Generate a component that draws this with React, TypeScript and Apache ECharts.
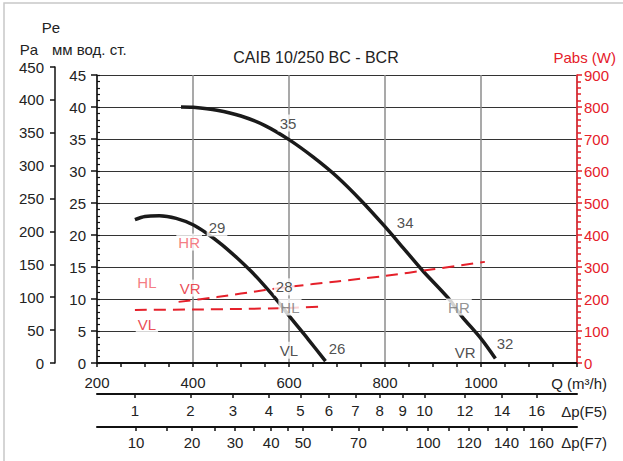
import React, { useEffect, useRef } from "react";
import * as echarts from "echarts";

// Pressure curves (mm w.c.) vs Q (m³/h)
const Q_LARGE = [375, 400, 450, 500, 550, 600, 650, 700, 750, 800, 840, 880, 931, 960, 1000, 1030];
const PE_LARGE = [40.0, 39.95, 39.5, 38.6, 37.1, 34.9, 32.2, 29.1, 25.4, 21.3, 17.8, 14.3, 10.2, 7.3, 3.8, 0.7];
const Q_SMALL = [279, 300, 330, 365, 400, 430, 460, 492, 520, 545, 575, 602, 640, 676];
const PE_SMALL = [22.4, 22.9, 23.0, 22.6, 21.6, 20.2, 18.5, 16.4, 14.4, 12.4, 9.8, 7.2, 3.7, 0.3];

// Absorbed power curves (W)
const Q_PWR_R = [370, 450, 550, 600, 700, 800, 900, 1008];
const W_PWR_R = [191, 206, 228, 238, 255, 272, 293, 316];
const Q_PWR_L = [279, 400, 500, 600, 665];
const W_PWR_L = [166, 167, 169, 172, 176];

// Filter pressure-drop scales: Q = K * sqrt(Δp)
const K_F5 = 279;
const K_F7 = 89;
const F5_LABELS = [1, 2, 3, 4, 5, 6, 7, 8, 9, 10, 12, 14, 16];
const F7_TICKS = [10, 15, 20, 25, 30, 35, 40, 45, 50, 60, 70, 80, 90, 100, 110, 120, 130, 140, 150, 160];
const F7_LABELS = [10, 20, 30, 40, 50, 70, 100, 120, 140, 160];

// Curve annotations: [Q, mm w.c., text, color]
const PE_NOTES: [number, number, string, string][] = [
  [598, 37.5, "35", "#222"],
  [842, 22.0, "34", "#222"],
  [450, 21.1, "29", "#222"],
  [590, 11.9, "28", "#222"],
  [602, 8.75, "HL", "#777"],
  [954, 8.75, "HR", "#777"],
  [600, 2.0, "VL", "#222"],
  [700, 2.3, "26", "#222"],
  [967, 1.7, "VR", "#222"],
  [1050, 3.1, "32", "#222"],
];
// Power annotations: [Q, W, text, color]
const W_NOTES: [number, number, string, string][] = [
  [392, 378, "HR", "#f25a64"],
  [304, 253, "HL", "#f25a64"],
  [394, 234, "VR", "#e5202a"],
  [304, 119, "VL", "#e5202a"],
];

const FONT = "'Liberation Sans', Arial, sans-serif";
const RED = "#e5202a";

function zip(a: number[], b: number[]) {
  return a.map((v, i) => [v, b[i]]);
}

function dpFormatter(labels: number[], k: number) {
  return (value: number) => {
    for (const l of labels) {
      if (Math.abs(k * Math.sqrt(l) - value) < 0.5) return String(l);
    }
    return "";
  };
}

export default function App() {
  const ref = useRef<HTMLDivElement>(null);
  useEffect(() => {
    if (!ref.current) return;
    const chart = echarts.init(ref.current, undefined, { renderer: "svg" });
    const f5Pos = F5_LABELS.map((v) => K_F5 * Math.sqrt(v));
    const f7TickPos = F7_TICKS.map((v) => K_F7 * Math.sqrt(v));
    const f7LabelPos = F7_LABELS.map((v) => K_F7 * Math.sqrt(v));

    const hiddenY = (gi: number) => ({
      gridIndex: gi,
      type: "value",
      show: false,
      min: 0,
      max: 1,
    });

    const noteLabel = (text: string, color: string) => ({
      show: true,
      position: "inside",
      formatter: text,
      color,
      fontSize: 15,
      backgroundColor: "#fff",
      padding: [1, 2],
    });

    const option: any = {
      animation: false,
      textStyle: { fontFamily: FONT },
      grid: [
        { left: 97, top: 75, width: 480, height: 288 },
        { left: 55, top: 67, width: 1, height: 296 },
        { left: 97, top: 393, width: 480, height: 1 },
        { left: 97, top: 426, width: 480, height: 1 },
      ],
      xAxis: [
        {
          gridIndex: 0,
          type: "value",
          min: 200,
          max: 1200,
          interval: 200,
          axisLine: { show: true, onZero: false, lineStyle: { color: "#111", width: 2 } },
          axisTick: { show: true, length: 4, lineStyle: { color: "#111", width: 1.5 } },
          minorTick: { show: true, splitNumber: 4, length: 4, lineStyle: { color: "#111", width: 1.5 } },
          axisLabel: {
            fontSize: 15,
            color: "#222",
            margin: 12,
            formatter: (v: number) => (v === 1200 ? "" : String(v)),
          },
          splitLine: { show: true, lineStyle: { color: "#8c8c8c", width: 1.5 } },
        },
        { gridIndex: 1, type: "value", show: false, min: 0, max: 1 },
        {
          gridIndex: 2,
          type: "value",
          min: 200,
          max: 1200,
          position: "bottom",
          axisLine: { show: true, onZero: false, lineStyle: { color: "#111", width: 2 } },
          axisTick: { show: true, length: 4, customValues: f5Pos, lineStyle: { color: "#111", width: 1.5 } },
          axisLabel: {
            fontSize: 15,
            color: "#222",
            margin: 9,
            customValues: f5Pos,
            formatter: dpFormatter(F5_LABELS, K_F5),
          },
          splitLine: { show: false },
        },
        {
          gridIndex: 3,
          type: "value",
          min: 200,
          max: 1200,
          position: "bottom",
          axisLine: { show: true, onZero: false, lineStyle: { color: "#111", width: 2 } },
          axisTick: { show: true, length: 4, customValues: f7TickPos, lineStyle: { color: "#111", width: 1.5 } },
          axisLabel: {
            fontSize: 15,
            color: "#222",
            margin: 8,
            customValues: f7LabelPos,
            formatter: dpFormatter(F7_LABELS, K_F7),
          },
          splitLine: { show: false },
        },
      ],
      yAxis: [
        {
          gridIndex: 0,
          type: "value",
          min: 0,
          max: 45,
          interval: 5,
          position: "left",
          axisLine: { show: true, onZero: false, lineStyle: { color: "#111", width: 1.5 } },
          axisTick: { show: true, length: 6, lineStyle: { color: "#111", width: 1.5 } },
          axisLabel: { fontSize: 15, color: "#222", margin: 11 },
          splitLine: { show: true, lineStyle: { color: "#333", width: 1 } },
        },
        {
          gridIndex: 0,
          type: "value",
          min: 0,
          max: 900,
          interval: 100,
          position: "right",
          axisLine: { show: true, onZero: false, lineStyle: { color: RED, width: 1.5 } },
          axisTick: { show: true, length: 5, lineStyle: { color: RED, width: 1.5 } },
          minorTick: { show: true, splitNumber: 5, length: 4, lineStyle: { color: RED, width: 1.5 } },
          axisLabel: { fontSize: 15, color: RED, margin: 7 },
          splitLine: { show: false },
        },
        {
          gridIndex: 1,
          type: "value",
          min: 0,
          max: 450,
          interval: 50,
          position: "left",
          axisLine: { show: true, onZero: false, lineStyle: { color: "#111", width: 1.5 } },
          axisTick: { show: true, length: 5, lineStyle: { color: "#111", width: 1.5 } },
          axisLabel: { fontSize: 15, color: "#222", margin: 11 },
          splitLine: { show: false },
        },
        {
          // inward minor ticks of the mm w.c. axis
          gridIndex: 0,
          type: "value",
          min: 0,
          max: 45,
          interval: 1,
          position: "left",
          axisLine: { show: false },
          axisTick: { show: true, inside: true, length: 3, lineStyle: { color: "#111", width: 1.2 } },
          axisLabel: { show: false },
          splitLine: { show: false },
        },
        hiddenY(2),
        hiddenY(3),
      ],
      series: [
        {
          type: "line",
          xAxisIndex: 0,
          yAxisIndex: 0,
          data: zip(Q_LARGE, PE_LARGE),
          smooth: 0.3,
          symbol: "none",
          lineStyle: { color: "#1a1a1a", width: 3.5 },
          z: 3,
        },
        {
          type: "line",
          xAxisIndex: 0,
          yAxisIndex: 0,
          data: zip(Q_SMALL, PE_SMALL),
          smooth: 0.3,
          symbol: "none",
          lineStyle: { color: "#1a1a1a", width: 3.5 },
          z: 3,
        },
        {
          type: "line",
          xAxisIndex: 0,
          yAxisIndex: 1,
          data: zip(Q_PWR_R, W_PWR_R),
          smooth: 0.3,
          symbol: "none",
          lineStyle: { color: RED, width: 2, type: [12, 7] },
          z: 3,
        },
        {
          type: "line",
          xAxisIndex: 0,
          yAxisIndex: 1,
          data: zip(Q_PWR_L, W_PWR_L),
          smooth: 0.3,
          symbol: "none",
          lineStyle: { color: RED, width: 2, type: [12, 7] },
          z: 3,
        },
        {
          type: "scatter",
          xAxisIndex: 0,
          yAxisIndex: 0,
          symbolSize: 1,
          itemStyle: { color: "rgba(0,0,0,0)" },
          z: 10,
          data: PE_NOTES.map((n) => ({ value: [n[0], n[1]], label: noteLabel(n[2], n[3]) })),
        },
        {
          type: "scatter",
          xAxisIndex: 0,
          yAxisIndex: 1,
          symbolSize: 1,
          itemStyle: { color: "rgba(0,0,0,0)" },
          z: 10,
          data: W_NOTES.map((n) => ({ value: [n[0], n[1]], label: noteLabel(n[2], n[3]) })),
        },
      ],
      graphic: [
        {
          type: "rect",
          shape: { x: 4, y: 3, width: 700, height: 600 },
          style: { fill: "none", stroke: "#c8c8c8", lineWidth: 1.5 },
          silent: true,
        },
        { type: "text", x: 51, y: 27, style: { text: "Pe", font: `15px ${FONT}`, fill: "#222", align: "center", verticalAlign: "middle" } },
        { type: "text", x: 29, y: 49, style: { text: "Pa", font: `15px ${FONT}`, fill: "#222", align: "center", verticalAlign: "middle" } },
        { type: "text", x: 52, y: 49, style: { text: "мм вод. ст.", font: `15px ${FONT}`, fill: "#222", align: "left", verticalAlign: "middle" } },
        { type: "text", x: 316, y: 57, style: { text: "CAIB 10/250 BC - BCR", font: `16px ${FONT}`, fill: "#222", align: "center", verticalAlign: "middle" } },
        { type: "text", x: 616, y: 57, style: { text: "Pabs (W)", font: `15px ${FONT}`, fill: RED, align: "right", verticalAlign: "middle" } },
        { type: "text", x: 607, y: 383, style: { text: "Q (m³/h)", font: `15px ${FONT}`, fill: "#222", align: "right", verticalAlign: "middle" } },
        { type: "text", x: 607, y: 411, style: { text: "Δp(F5)", font: `15px ${FONT}`, fill: "#222", align: "right", verticalAlign: "middle" } },
        { type: "text", x: 607, y: 442, style: { text: "Δp(F7)", font: `15px ${FONT}`, fill: "#222", align: "right", verticalAlign: "middle" } },
      ],
    };
    chart.setOption(option);
    return () => chart.dispose();
  }, []);
  return (
    <div
      ref={ref}
      style={{ position: "fixed", left: 0, top: 0, width: 623, height: 461, background: "#fff" }}
    />
  );
}
